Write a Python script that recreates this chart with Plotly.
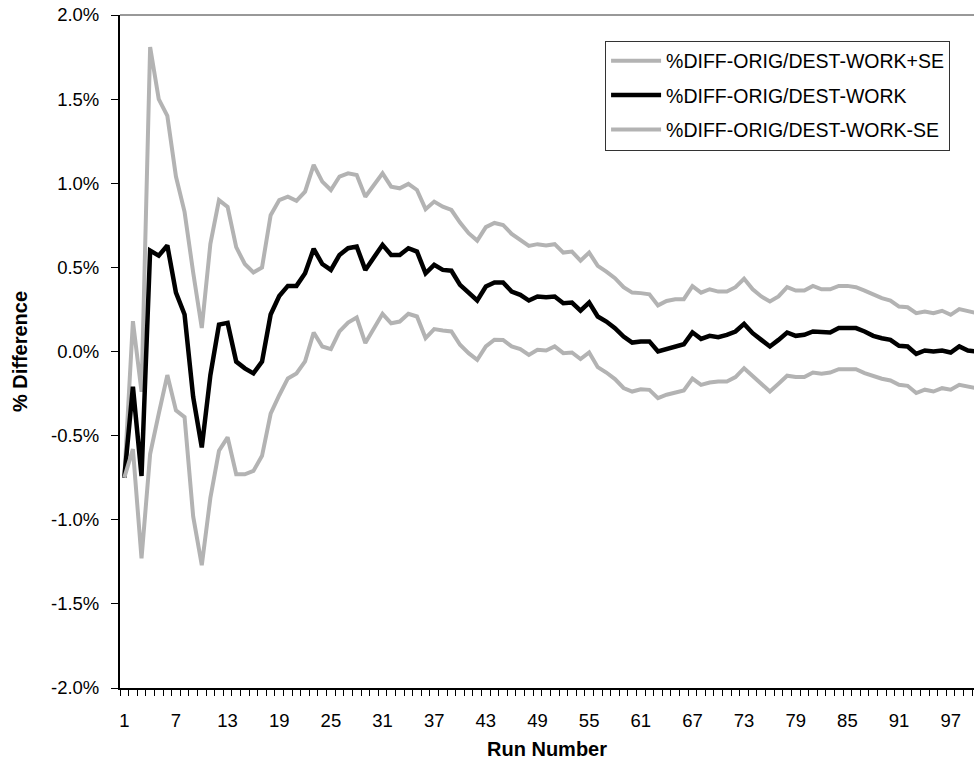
import plotly.graph_objects as go

run_numbers = list(range(1, 101))

diff_mean = [
    -0.75, -0.21, -0.74, 0.60, 0.57, 0.63, 0.35, 0.22, -0.27, -0.57,
    -0.14, 0.16, 0.17, -0.06, -0.10, -0.13, -0.06, 0.22, 0.33, 0.39,
    0.39, 0.465, 0.61, 0.52, 0.485, 0.574, 0.614, 0.624, 0.485, 0.564,
    0.634, 0.574, 0.574, 0.614, 0.594, 0.465, 0.515, 0.485, 0.48, 0.396,
    0.347, 0.303, 0.386, 0.41, 0.41, 0.356, 0.337, 0.303, 0.327, 0.323,
    0.327, 0.287, 0.291, 0.243, 0.291, 0.208, 0.178, 0.139, 0.089, 0.053,
    0.06, 0.06, 0.0, 0.015, 0.033, 0.043, 0.114, 0.075, 0.093, 0.085,
    0.099, 0.119, 0.164, 0.109, 0.069, 0.03, 0.069, 0.113, 0.093, 0.099,
    0.119, 0.113, 0.113, 0.139, 0.139, 0.139, 0.119, 0.093, 0.079, 0.069,
    0.034, 0.03, -0.014, 0.006, 0.0, 0.006, -0.006, 0.03, 0.006, 0.0,
]

diff_plus_se = [
    -0.75, 0.18, -0.24, 1.81, 1.50, 1.40, 1.04, 0.83, 0.47, 0.14,
    0.64, 0.90, 0.86, 0.62, 0.52, 0.47, 0.50, 0.81, 0.90, 0.92,
    0.895, 0.95, 1.109, 1.01, 0.96, 1.04, 1.059, 1.049, 0.92, 0.99,
    1.059, 0.98, 0.97, 0.996, 0.96, 0.846, 0.891, 0.861, 0.841, 0.766,
    0.703, 0.659, 0.739, 0.764, 0.752, 0.699, 0.667, 0.628, 0.638, 0.63,
    0.638, 0.588, 0.594, 0.54, 0.588, 0.509, 0.475, 0.436, 0.382, 0.35,
    0.347, 0.34, 0.274, 0.30, 0.311, 0.311, 0.388, 0.35, 0.37, 0.356,
    0.356, 0.382, 0.432, 0.37, 0.327, 0.297, 0.327, 0.382, 0.362, 0.362,
    0.39, 0.37, 0.37, 0.39, 0.39, 0.382, 0.362, 0.337, 0.317, 0.303,
    0.267, 0.263, 0.228, 0.238, 0.228, 0.242, 0.218, 0.252, 0.238, 0.228,
]

diff_minus_se = [
    -0.75, -0.58, -1.23, -0.61, -0.37, -0.14, -0.35, -0.39, -0.98, -1.27,
    -0.87, -0.59, -0.51, -0.73, -0.73, -0.71, -0.62, -0.37, -0.26, -0.16,
    -0.13, -0.059, 0.113, 0.03, 0.014, 0.119, 0.172, 0.202, 0.05, 0.139,
    0.224, 0.168, 0.178, 0.224, 0.208, 0.08, 0.133, 0.125, 0.119, 0.04,
    -0.01, -0.049, 0.03, 0.07, 0.069, 0.03, 0.014, -0.02, 0.01, 0.006,
    0.03, -0.01, -0.006, -0.045, -0.006, -0.093, -0.125, -0.164, -0.217, -0.238,
    -0.225, -0.228, -0.277, -0.257, -0.243, -0.232, -0.161, -0.198, -0.184, -0.178,
    -0.178, -0.152, -0.099, -0.148, -0.192, -0.238, -0.192, -0.144, -0.152, -0.152,
    -0.125, -0.132, -0.125, -0.105, -0.105, -0.105, -0.128, -0.148, -0.162, -0.172,
    -0.198, -0.204, -0.247, -0.227, -0.238, -0.218, -0.227, -0.198, -0.208, -0.218,
]

x_tick_vals = list(range(1, 101, 6))
x_tick_text = [str(v) for v in x_tick_vals]
y_tick_vals = [-2.0, -1.5, -1.0, -0.5, 0.0, 0.5, 1.0, 1.5, 2.0]
y_tick_text = ["-2.0%", "-1.5%", "-1.0%", "-0.5%", "0.0%", "0.5%", "1.0%", "1.5%", "2.0%"]

series_names = [
    "%DIFF-ORIG/DEST-WORK+SE",
    "%DIFF-ORIG/DEST-WORK",
    "%DIFF-ORIG/DEST-WORK-SE",
]

FONT = "Liberation Sans, Arial, sans-serif"
GRAY = "#B3B3B3"

fig = go.Figure()
fig.add_trace(go.Scatter(x=run_numbers, y=diff_plus_se, mode="lines", name=series_names[0],
                         line=dict(color=GRAY, width=4), legendgroup="a"))
fig.add_trace(go.Scatter(x=run_numbers, y=diff_mean, mode="lines", name=series_names[1],
                         line=dict(color="black", width=4.5), legendgroup="b"))
fig.add_trace(go.Scatter(x=run_numbers, y=diff_minus_se, mode="lines", name=series_names[2],
                         line=dict(color=GRAY, width=4), legendgroup="c"))

fig.update_layout(
    width=974, height=765, autosize=False,
    margin=dict(l=120, r=0, t=15, b=77, pad=0),
    paper_bgcolor="white", plot_bgcolor="white",
    font=dict(family=FONT, size=18, color="black"),
    showlegend=True,
    legend=dict(
        x=0.568, y=0.962, xanchor="left", yanchor="top",
        bgcolor="white", bordercolor="#333333", borderwidth=1,
        font=dict(family=FONT, size=19.5, color="black"),
        tracegroupgap=6, itemwidth=50,
    ),
    xaxis=dict(
        range=[0.5, 99.71],
        showline=True, linecolor="black", linewidth=1.5,
        showgrid=False, zeroline=False,
        tickmode="array", tickvals=x_tick_vals, ticktext=x_tick_text,
        ticks="outside", ticklen=0, ticklabelstandoff=15,
        tickfont=dict(family=FONT, size=18.5),
        minor=dict(tickmode="linear", tick0=0.5, dtick=1, ticks="outside",
                   ticklen=6, tickwidth=1, tickcolor="black", showgrid=False),
        title=dict(text="<b>Run Number</b>", font=dict(family=FONT, size=20), standoff=12),
    ),
    yaxis=dict(
        range=[-2.0, 2.0],
        showline=True, linecolor="black", linewidth=2,
        showgrid=False, zeroline=False,
        tickmode="array", tickvals=y_tick_vals, ticktext=y_tick_text,
        ticks="outside", ticklen=7, tickwidth=1, tickcolor="black",
        ticklabelstandoff=8,
        tickfont=dict(family=FONT, size=18.5),
        title=dict(text="<b>% Difference</b>", font=dict(family=FONT, size=20), standoff=18),
    ),
    shapes=[dict(type="line", xref="paper", yref="paper", x0=0, x1=1, y0=1, y1=1,
                 line=dict(color="#333333", width=1))],
)

fig.write_html("out.html")
